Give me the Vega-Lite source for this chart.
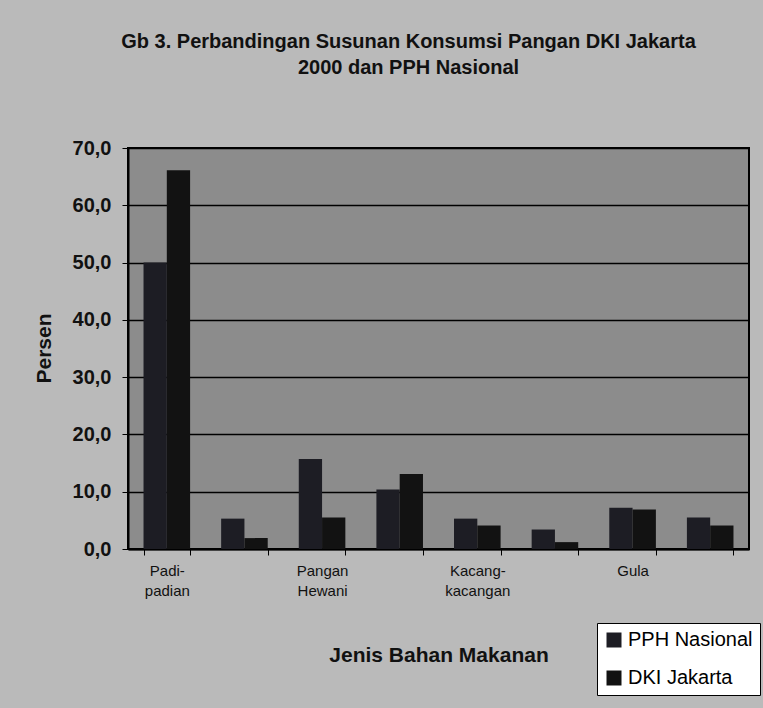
{
  "$schema": "https://vega.github.io/schema/vega-lite/v6.json",
  "width": 621,
  "height": 401,
  "autosize": {"type": "none"},
  "padding": {"left": 128, "top": 148, "right": 14, "bottom": 159},
  "background": "#bababa",
  "title": {
    "text": ["Gb 3. Perbandingan Susunan Konsumsi Pangan DKI Jakarta", "2000 dan PPH Nasional"],
    "font": "Arial, Liberation Sans, sans-serif",
    "fontSize": 20,
    "fontWeight": "bold",
    "color": "#111111",
    "anchor": "middle",
    "frame": "group",
    "offset": 60,
    "dx": -30,
    "lineHeight": 26
  },
  "data": {
    "values": [
      {"jenis": "Padi-padian", "seri": "PPH Nasional", "persen": 50.0},
      {"jenis": "Padi-padian", "seri": "DKI Jakarta", "persen": 66.1},
      {"jenis": "Umbi-umbian", "seri": "PPH Nasional", "persen": 5.3},
      {"jenis": "Umbi-umbian", "seri": "DKI Jakarta", "persen": 1.9},
      {"jenis": "Pangan Hewani", "seri": "PPH Nasional", "persen": 15.7},
      {"jenis": "Pangan Hewani", "seri": "DKI Jakarta", "persen": 5.5},
      {"jenis": "Minyak dan Lemak", "seri": "PPH Nasional", "persen": 10.4},
      {"jenis": "Minyak dan Lemak", "seri": "DKI Jakarta", "persen": 13.1},
      {"jenis": "Kacang-kacangan", "seri": "PPH Nasional", "persen": 5.3},
      {"jenis": "Kacang-kacangan", "seri": "DKI Jakarta", "persen": 4.1},
      {"jenis": "Buah/Biji Berminyak", "seri": "PPH Nasional", "persen": 3.4},
      {"jenis": "Buah/Biji Berminyak", "seri": "DKI Jakarta", "persen": 1.2},
      {"jenis": "Gula", "seri": "PPH Nasional", "persen": 7.2},
      {"jenis": "Gula", "seri": "DKI Jakarta", "persen": 6.9},
      {"jenis": "Sayur dan Buah", "seri": "PPH Nasional", "persen": 5.5},
      {"jenis": "Sayur dan Buah", "seri": "DKI Jakarta", "persen": 4.1}
    ]
  },
  "mark": {"type": "bar"},
  "encoding": {
    "x": {
      "field": "jenis",
      "type": "nominal",
      "sort": null,
      "scale": {"paddingInner": 0.4, "paddingOuter": 0.2},
      "axis": {
        "title": "Jenis Bahan Makanan",
        "titleFont": "Arial, Liberation Sans, sans-serif",
        "titleFontSize": 21,
        "titleFontWeight": "bold",
        "titleColor": "#111111",
        "titleY": 106,
        "titleBaseline": "middle",
        "labelAngle": 0,
        "labelOverlap": false,
        "labelExpr": "datum.label == 'Padi-padian' ? ['Padi-','padian'] : datum.label == 'Pangan Hewani' ? ['Pangan','Hewani'] : datum.label == 'Kacang-kacangan' ? ['Kacang-','kacangan'] : datum.label == 'Gula' ? 'Gula' : ''",
        "labelFont": "Arial, Liberation Sans, sans-serif",
        "labelFontSize": 15,
        "labelLineHeight": 20,
        "labelColor": "#111111",
        "labelPadding": 8,
        "tickBand": "extent",
        "tickSize": 6,
        "tickColor": "#000000",
        "domainColor": "#000000",
        "domainWidth": 2,
        "grid": false
      }
    },
    "xOffset": {
      "field": "seri",
      "type": "nominal",
      "sort": ["PPH Nasional", "DKI Jakarta"],
      "scale": {"paddingInner": 0, "paddingOuter": 0}
    },
    "y": {
      "field": "persen",
      "type": "quantitative",
      "scale": {"domain": [0, 70]},
      "axis": {
        "values": [0, 10, 20, 30, 40, 50, 60, 70],
        "labelExpr": "replace(format(datum.value, '.1f'), '.', ',')",
        "labelFont": "Arial, Liberation Sans, sans-serif",
        "labelFontSize": 20,
        "labelFontWeight": "bold",
        "labelColor": "#111111",
        "labelPadding": 11,
        "tickSize": 6,
        "tickColor": "#000000",
        "domainColor": "#000000",
        "domainWidth": 2,
        "grid": true,
        "gridColor": "#000000",
        "gridWidth": 1.3,
        "gridOpacity": 1,
        "title": "Persen",
        "titleFont": "Arial, Liberation Sans, sans-serif",
        "titleFontSize": 21,
        "titleFontWeight": "bold",
        "titleColor": "#111111",
        "titleX": -84,
        "titleY": 200,
        "titleAlign": "center",
        "titleBaseline": "middle"
      }
    },
    "color": {
      "field": "seri",
      "type": "nominal",
      "sort": ["PPH Nasional", "DKI Jakarta"],
      "scale": {"domain": ["PPH Nasional", "DKI Jakarta"], "range": ["#1d1d24", "#121212"]},
      "legend": {
        "orient": "none",
        "legendX": 469,
        "legendY": 475,
        "title": null,
        "symbolType": "square",
        "symbolSize": 225,
        "symbolStrokeWidth": 0,
        "labelFont": "Arial, Liberation Sans, sans-serif",
        "labelFontSize": 20,
        "labelColor": "#000000",
        "labelOffset": 4,
        "fillColor": "#ffffff",
        "strokeColor": "#000000",
        "padding": 7,
        "rowPadding": 18
      }
    }
  },
  "config": {
    "view": {"fill": "#8c8c8c", "stroke": "#000000", "strokeWidth": 2}
  }
}
